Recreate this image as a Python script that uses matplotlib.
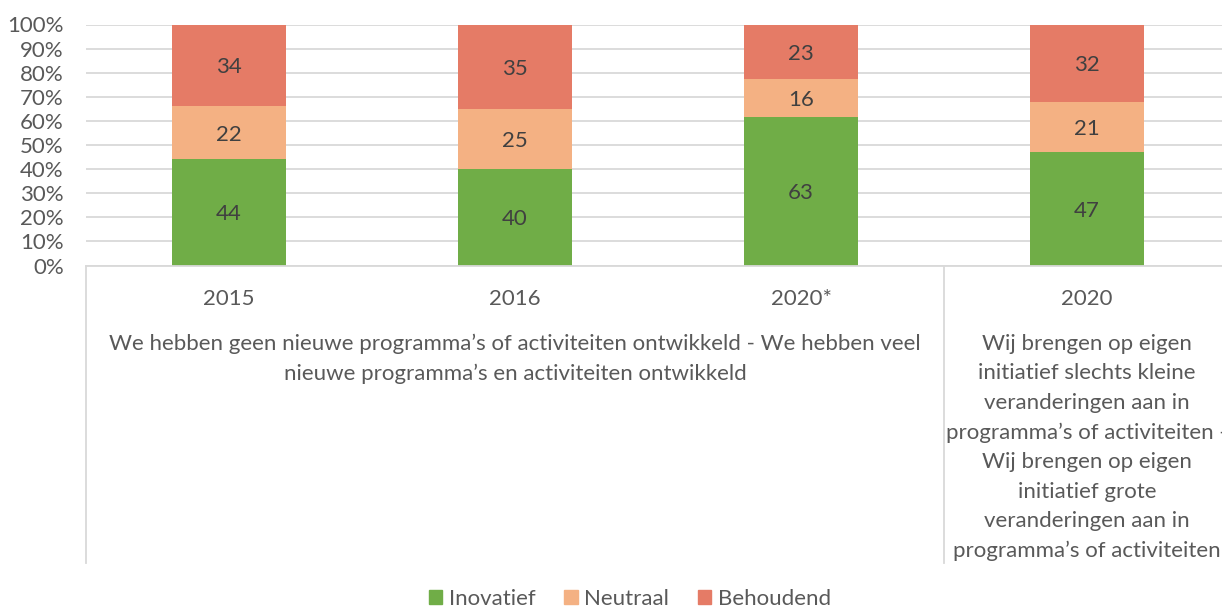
import numpy as np
import matplotlib.pyplot as plt
from matplotlib.patches import Patch

plt.rcParams['font.family'] = ['Lato', 'DejaVu Sans']

years = ['2015', '2016', '2020*', '2020']
inovatief = [44, 40, 63, 47]
neutraal = [22, 25, 16, 21]
behoudend = [34, 35, 23, 32]

series_names = ['Inovatief', 'Neutraal', 'Behoudend']
colors = ['#70AD47', '#F4B183', '#E57B66']

group_labels = [
    'We hebben geen nieuwe programma’s of activiteiten ontwikkeld - We hebben veel\n'
    'nieuwe programma’s en activiteiten ontwikkeld',
    'Wij brengen op eigen\ninitiatief slechts kleine\nveranderingen aan in\n'
    'programma’s of activiteiten -\nWij brengen op eigen\ninitiatief grote\n'
    'veranderingen aan in\nprogramma’s of activiteiten',
]

FS = 16
TXT = '#595959'

W, H = 1222, 607
fig = plt.figure(figsize=(W / 100, H / 100), dpi=100)
# plot area runs a little past the right edge of the figure
left, right, top, bottom = 86, 1230, 24.5, 265.5
ax = fig.add_axes([left / W, 1 - bottom / H, (right - left) / W, (bottom - top) / H])

data = np.array([inovatief, neutraal, behoudend], dtype=float)
pct = data / data.sum(axis=0) * 100
x = np.arange(len(years))
base = np.zeros(len(years))
for vals, raw, c in zip(pct, data, colors):
    ax.bar(x, vals, 0.4, bottom=base, color=c, zorder=2)
    for xi, b, v, r in zip(x, base, vals, raw):
        ax.text(xi, b + v / 2, f'{int(r)}', ha='center', va='center_baseline',
                fontsize=FS, color='#404040', zorder=3)
    base += vals

ax.set_xlim(-0.5, 3.5)
ax.set_ylim(0, 100)
ax.set_yticks(np.arange(0, 101, 10))
ax.set_yticklabels([f'{t}%' for t in range(0, 101, 10)])
ax.tick_params(axis='y', length=0, labelsize=FS, labelcolor=TXT, pad=16)
ax.set_xticks([])
ax.grid(axis='y', color='#D9D9D9', lw=1.3, zorder=0)
for s in ['top', 'right', 'left']:
    ax.spines[s].set_visible(False)
ax.spines['bottom'].set_color('#D9D9D9')
ax.spines['bottom'].set_linewidth(1.3)

# multi-level category axis
tr = ax.get_xaxis_transform()
px = 1 / (bottom - top)
line_end = -(563 - bottom) * px
for xv in [-0.5, 2.5]:
    ax.plot([xv, xv], [0, line_end], transform=tr, color='#D9D9D9', lw=1.3, clip_on=False)
for xi, yr in zip(x, years):
    ax.text(xi, -(299 - bottom) * px, yr, transform=tr, ha='center', va='center',
            fontsize=FS, color=TXT)
ax.text(1, -(334 - bottom) * px, group_labels[0], transform=tr, ha='center', va='top',
        fontsize=FS, color=TXT, linespacing=1.59)
ax.text(3, -(334 - bottom) * px, group_labels[1], transform=tr, ha='center', va='top',
        fontsize=FS, color=TXT, linespacing=1.59)

handles = [Patch(color=c, label=n) for c, n in zip(colors, series_names)]
fig.legend(handles=handles, loc='center', bbox_to_anchor=(630 / W, 1 - 599 / H), ncol=3,
           frameon=False, fontsize=FS, labelcolor=TXT, handlelength=0.6,
           handleheight=0.6, handletextpad=0.3, columnspacing=1.3)

fig.savefig('out.png', dpi=100)
